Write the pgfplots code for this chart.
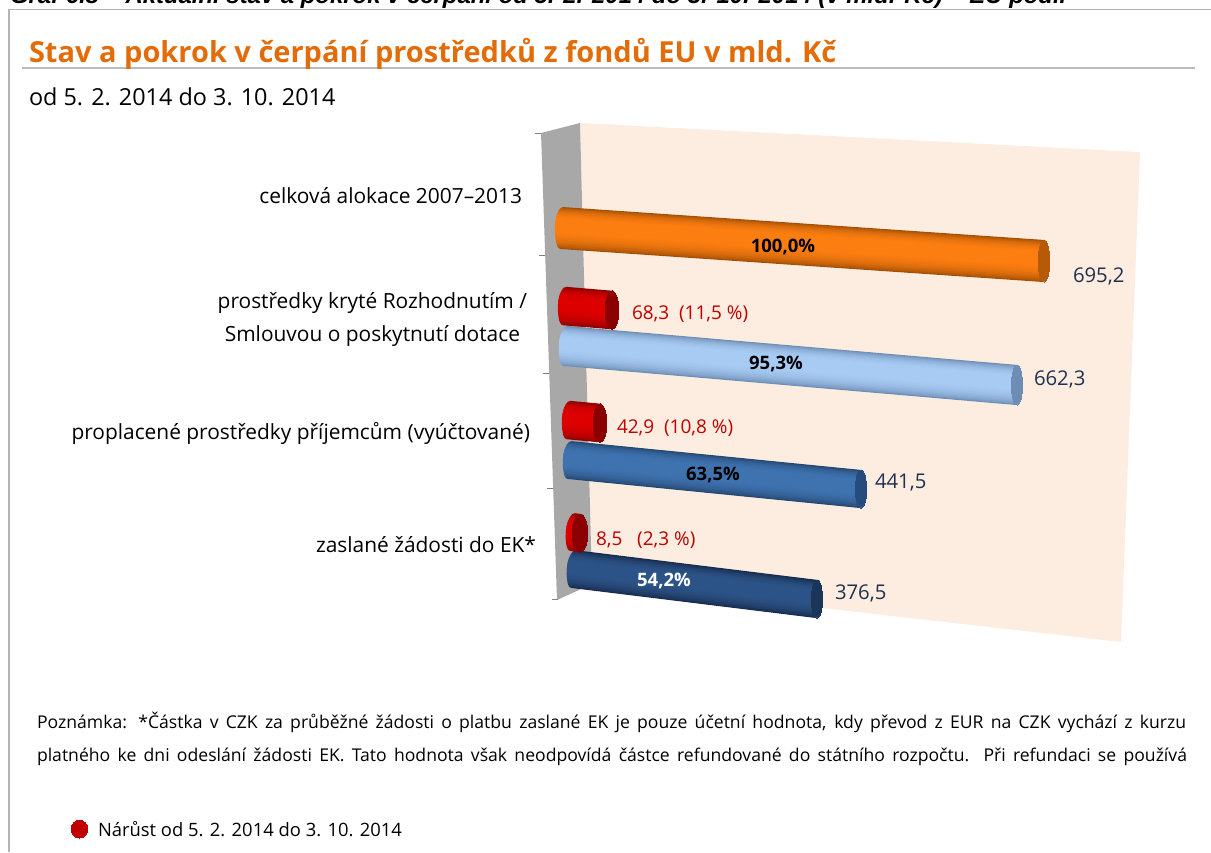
\documentclass[border=0pt]{standalone}
\usepackage{fontspec}
\setmainfont{Open Sans}
\newfontfamily\capfont{Liberation Sans}
\usepackage{pgfplots}
\pgfplotsset{compat=1.18}
\tikzset{every node/.style={inner sep=0pt,outer sep=0pt}}
\definecolor{frameg}{HTML}{B4B4B4}
\definecolor{titleor}{HTML}{E36C0A}
\definecolor{wall}{HTML}{FDEDE0}
\definecolor{sidegrey}{HTML}{A8A8A8}
\definecolor{valnavy}{HTML}{1F3050}
\definecolor{redtxt}{HTML}{C00000}
\definecolor{ormain}{HTML}{FC7D10}
\definecolor{ordark}{HTML}{A04E06}
\definecolor{orcap}{HTML}{B55A08}
\definecolor{lbmain}{HTML}{A8CBF4}
\definecolor{lbdark}{HTML}{6C8CB2}
\definecolor{lbcap}{HTML}{6E8DB5}
\definecolor{bmain}{HTML}{3F73B0}
\definecolor{bdark}{HTML}{24466F}
\definecolor{bcap}{HTML}{254C7C}
\definecolor{dmain}{HTML}{2C5387}
\definecolor{ddark}{HTML}{16294A}
\definecolor{dcap}{HTML}{1B3558}
\definecolor{rmain}{HTML}{DC0000}
\definecolor{rdark}{HTML}{8C0000}
\definecolor{rcap}{HTML}{8B0000}
\newcommand{\fs}[1]{\fontsize{#1}{#1}\selectfont}
% one shaded band of a tube: coords, diameter, main, dark, width fraction, mix, shift to the left
\newcommand{\tubelayer}[7]{%
  \addplot[line width={#2*#5*1pt},color=#3!#6!#4,no marks,
    x filter/.expression={x-#7},y filter/.expression={y-(1-#5)*#2*0.1}] coordinates {#1};}
% coords, diameter, main, dark, cap colour, end point, cap width scale
\newcommand{\tube}[7]{%
  \tubelayer{#1}{#2}{#3}{#4}{1}{0}{0}%
  \tubelayer{#1}{#2}{#3}{#4}{.97}{12}{1.4}%
  \tubelayer{#1}{#2}{#3}{#4}{.94}{25}{2.0}%
  \tubelayer{#1}{#2}{#3}{#4}{.90}{35}{2.6}%
  \tubelayer{#1}{#2}{#3}{#4}{.86}{45}{3.0}%
  \tubelayer{#1}{#2}{#3}{#4}{.81}{55}{3.5}%
  \tubelayer{#1}{#2}{#3}{#4}{.76}{65}{3.9}%
  \tubelayer{#1}{#2}{#3}{#4}{.70}{72}{4.2}%
  \tubelayer{#1}{#2}{#3}{#4}{.64}{80}{4.6}%
  \tubelayer{#1}{#2}{#3}{#4}{.57}{87}{4.9}%
  \tubelayer{#1}{#2}{#3}{#4}{.50}{92}{5.2}%
  \tubelayer{#1}{#2}{#3}{#4}{.43}{97}{5.4}%
  \tubelayer{#1}{#2}{#3}{#4}{.36}{100}{5.6}%
  \tubelayer{#1}{#2}{#3}{#4}{.20}{100}{5.9}%
  \addplot[only marks,mark=*,mark size={#2/2},mark options={line width=0pt,xscale=#7,color=#5,fill=#5}] coordinates {#6};}
\begin{document}
\begin{tikzpicture}
\begin{axis}[x=1pt,y=1pt,xmin=0,xmax=1211,ymin=0,ymax=852,y dir=reverse,hide axis,
  clip=true,scale only axis]
\path (axis cs:0,0) rectangle (axis cs:1211,852);
% frame and title rule
\addplot[frameg,line width=1.6pt] coordinates {(9,852) (9,9.5) (1211,9.5)};
\addplot[frameg!90,line width=1.6pt] coordinates {(22,68) (1195,68)};
% walls
\addplot[fill=wall,draw=none] coordinates {(580,123) (1140,152) (1121,642) (592,582)} --cycle;
\addplot[fill=sidegrey,draw=none] coordinates {(541,133) (580,123) (592,584) (557,600)} --cycle;
% category ticks
\addplot[gray,line width=.8pt] coordinates {(535,133) (541,133)};
\addplot[gray,line width=.8pt] coordinates {(539,255) (545,255)};
\addplot[gray,line width=.8pt] coordinates {(543,373) (549,373)};
\addplot[gray,line width=.8pt] coordinates {(547,488) (553,488)};
\addplot[gray,line width=.8pt] coordinates {(552,599) (558,599)};
% bars, pixel positions of 695.2, 662.3, 441.5, 376.5
\tube{(561,228) (1044,261)}{42}{ormain}{ordark}{orcap}{(1044,261)}{.28}
\tube{(565,346) (1017,385)}{40}{lbmain}{lbdark}{lbcap}{(1017,385)}{.28}
\tube{(569,460) (861,489)}{38}{bmain}{bdark}{bcap}{(861,489)}{.30}
\tube{(573,569) (817,599)}{38}{dmain}{ddark}{dcap}{(817,599)}{.30}
% increases 68.3, 42.9, 8.5
\tube{(564,306) (612,310)}{38.5}{rmain}{rdark}{rcap}{(612,310)}{.36}
\tube{(568,420) (600,423)}{38.5}{rmain}{rdark}{rcap}{(600,423)}{.36}
\tube{(572,532) (580,533)}{38}{rmain}{rdark}{rcap}{(580,533)}{.42}
% legend dot
\addplot[only marks,mark=*,mark size=9,mark options={line width=0pt,xscale=.92,color=redtxt,fill=redtxt}] coordinates {(79.5,829)};

\node[overlay,anchor=base west,font=\capfont\fs{23.9}\bfseries\itshape] at (axis cs:10,3) {Graf 6.8 – Aktuální stav a pokrok v čerpání od 5. 2. 2014 do 3. 10. 2014 (v mld. Kč) – EU podíl};
\node[anchor=base west,font=\fs{29}\bfseries,text=titleor] at (axis cs:29,62) {Stav a pokrok v čerpání prostředků z fondů EU v mld. Kč};
\node[anchor=base west,font=\fs{23.4}] at (axis cs:29,105) {od 5. 2. 2014 do 3. 10. 2014};

\node[anchor=base east,font=\fs{20.9}] at (axis cs:522,203) {celková alokace 2007–2013};
\node[anchor=base east,font=\fs{20.9}] at (axis cs:527,308) {prostředky kryté Rozhodnutím /};
\node[anchor=base east,font=\fs{20.9}] at (axis cs:520,341) {Smlouvou o poskytnutí dotace};
\node[anchor=base east,font=\fs{20.9}] at (axis cs:530,439) {proplacené prostředky příjemcům (vyúčtované)};
\node[anchor=base east,font=\fs{20.9}] at (axis cs:536,552) {zaslané žádosti do EK*};

\node[anchor=base west,font=\fs{20.3},text=valnavy] at (axis cs:1073,282) {695,2};
\node[anchor=base west,font=\fs{20.3},text=valnavy] at (axis cs:1034,385) {662,3};
\node[anchor=base west,font=\fs{20.3},text=valnavy] at (axis cs:875,488) {441,5};
\node[anchor=base west,font=\fs{20.3},text=valnavy] at (axis cs:835,599) {376,5};

\node[anchor=base west,font=\fs{19},text=redtxt] at (axis cs:632,319) {68,3\ \ (11,5 \%)};
\node[anchor=base west,font=\fs{19},text=redtxt] at (axis cs:617,433) {42,9\ \ (10,8 \%)};
\node[anchor=base west,font=\fs{19},text=redtxt] at (axis cs:596,545) {8,5\ \ \ (2,3 \%)};

\node[anchor=base,font=\fs{18.5}\bfseries] at (axis cs:783,252) {100,0\%};
\node[anchor=base,font=\fs{18.5}\bfseries] at (axis cs:776,369) {95,3\%};
\node[anchor=base,font=\fs{18.5}\bfseries] at (axis cs:713,480) {63,5\%};
\node[anchor=base,font=\fs{18.5}\bfseries,text=white] at (axis cs:664,586) {54,2\%};

\node[anchor=base west,font=\fs{17.6}] at (axis cs:37,728) {\makebox[1149pt][s]{Poznámka: *Částka v CZK za průběžné žádosti o platbu zaslané EK je pouze účetní hodnota, kdy převod z EUR na CZK vychází z kurzu}};
\node[anchor=base west,font=\fs{17.6}] at (axis cs:37,761) {\makebox[1150pt][s]{platného ke dni odeslání žádosti EK. Tato hodnota však neodpovídá částce refundované do státního rozpočtu. Při refundaci se používá}};
\node[anchor=base west,font=\fs{18.4}] at (axis cs:98,836) {Nárůst od 5. 2. 2014 do 3. 10. 2014};
\end{axis}
\end{tikzpicture}
\end{document}
